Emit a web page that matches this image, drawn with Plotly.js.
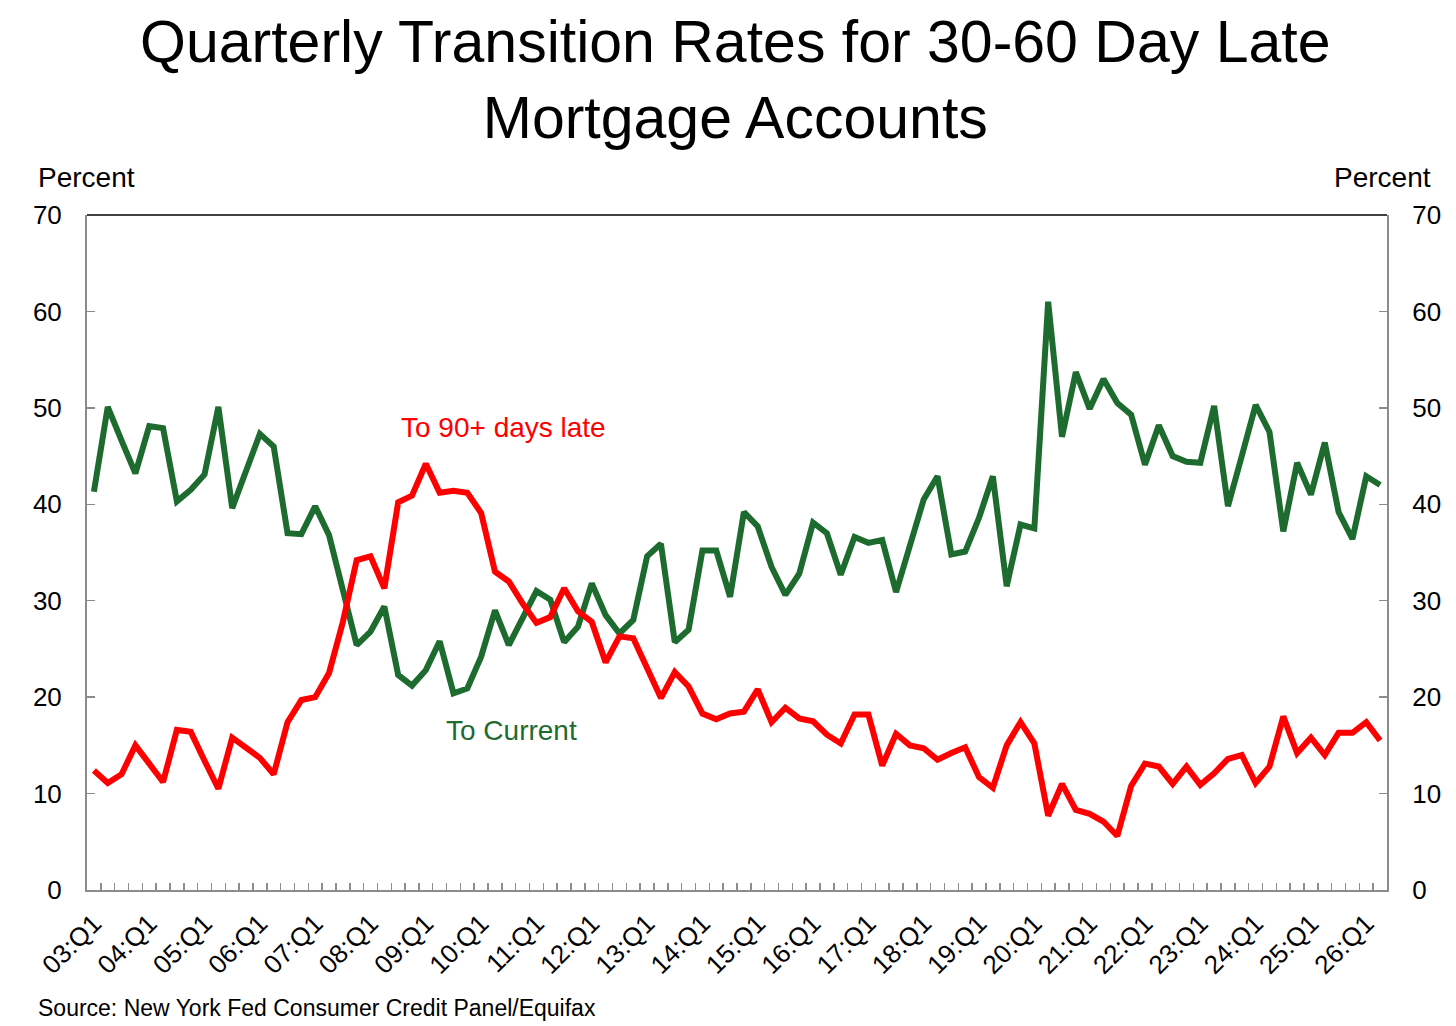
<!DOCTYPE html>
<html>
<head>
<meta charset="utf-8">
<script src="https://cdn.plot.ly/plotly-3.0.1.min.js"></script>
<style>
  html, body { margin: 0; padding: 0; background: #fff; }
  #chart { width: 1456px; height: 1026px; }
</style>
</head>
<body>
<div id="chart"></div>
<script>
// quarters 03:Q1 .. 26:Q2
const years = ["03","04","05","06","07","08","09","10","11","12","13","14",
  "15","16","17","18","19","20","21","22","23","24","25","26"];
const quarterNames = ["Q1","Q2","Q3","Q4"];
const quarters = [];
years.forEach(y => quarterNames.forEach(q => quarters.push(y + ":" + q)));
quarters.length = 94;

// percent of 30-60 day late accounts moving to current
const toCurrent = [
  41.3, 50.1, 46.6, 43.2, 48.1, 47.9, 40.3, 41.5, 43.1, 50.1,
  39.6, 43.5, 47.3, 46.0, 37.0, 36.9, 39.8, 36.8, 31.3, 25.4,
  26.8, 29.4, 22.3, 21.2, 22.8, 25.8, 20.4, 20.9, 24.2, 29.0,
  25.4, 28.3, 31.0, 30.1, 25.7, 27.3, 31.8, 28.5, 26.6, 28.0,
  34.6, 35.9, 25.7, 27.0, 35.2, 35.2, 30.4, 39.2, 37.7, 33.5,
  30.6, 32.8, 38.1, 37.0, 32.7, 36.6, 36.0, 36.3, 30.9, 35.7,
  40.5, 42.9, 34.8, 35.1, 38.6, 42.9, 31.5, 37.9, 37.5, 61.0,
  47.0, 53.7, 49.9, 53.0, 50.5, 49.3, 44.1, 48.2, 45.0, 44.4,
  44.3, 50.2, 39.8, 45.0, 50.3, 47.5, 37.2, 44.3, 41.0, 46.4,
  39.2, 36.4, 42.9, 42.0
];

// percent moving to 90+ days late
const to90Late = [
  12.4, 11.1, 12.0, 15.0, 13.1, 11.2, 16.6, 16.4, 13.4, 10.5,
  15.8, 14.7, 13.7, 12.0, 17.4, 19.7, 20.0, 22.5, 27.8, 34.2,
  34.6, 31.3, 40.2, 40.9, 44.2, 41.2, 41.4, 41.2, 39.1, 33.0,
  32.0, 29.7, 27.7, 28.3, 31.3, 28.9, 27.8, 23.6, 26.3, 26.1,
  23.0, 19.9, 22.6, 21.1, 18.3, 17.7, 18.3, 18.5, 20.8, 17.4,
  18.9, 17.8, 17.5, 16.1, 15.2, 18.2, 18.2, 12.9, 16.2, 15.0,
  14.7, 13.5, 14.2, 14.8, 11.7, 10.6, 15.0, 17.4, 15.2, 7.7,
  11.0, 8.3, 7.9, 7.1, 5.6, 10.8, 13.1, 12.8, 11.0, 12.8,
  10.9, 12.1, 13.6, 14.0, 11.1, 12.8, 18.0, 14.2, 15.8, 14.0,
  16.3, 16.3, 17.4, 15.5
];

// only Q1 gets a label
const tickText = quarters.map(q => q.endsWith("Q1") ? q : "");

const GREEN = "#1e6b30";
const RED = "#ff0000";
const AXIS = "#8c8c8c";
const FONT = "Liberation Sans, Arial, sans-serif";

const traces = [
  {
    x: quarters, y: toCurrent, type: "scatter", mode: "lines",
    line: { color: GREEN, width: 6 }, name: "To Current"
  },
  {
    x: quarters, y: to90Late, type: "scatter", mode: "lines",
    line: { color: RED, width: 6 }, name: "To 90+ days late"
  },
  // dummy trace so the right axis gets drawn
  { x: [quarters[0]], y: [null], yaxis: "y2", showlegend: false, hoverinfo: "skip" }
];

const yCommon = {
  range: [0, 70], dtick: 10, tick0: 0,
  showgrid: false, zeroline: false,
  showline: true, linecolor: AXIS, linewidth: 2,
  ticks: "inside", ticklen: 8, tickcolor: AXIS, tickwidth: 1.5,
  tickfont: { family: FONT, size: 26, color: "#000" },
  ticklabelstandoff: 18,
  fixedrange: true
};

const layout = {
  width: 1456, height: 1026,
  margin: { l: 87, r: 69, t: 215, b: 136 },
  paper_bgcolor: "#fff", plot_bgcolor: "#fff",
  showlegend: false,
  font: { family: FONT, color: "#000" },
  title: {
    text: "Quarterly Transition Rates for 30-60 Day Late<br>Mortgage Accounts",
    font: { family: FONT, size: 59, color: "#000" },
    x: 0.505, xanchor: "center",
    y: 0.94, yanchor: "middle"
  },
  xaxis: {
    type: "category",
    range: [-0.5, quarters.length - 0.5],
    tickmode: "array", tickvals: quarters, ticktext: tickText,
    tickson: "boundaries",
    ticks: "inside", ticklen: 7, tickcolor: AXIS, tickwidth: 1.5,
    tickangle: -45,
    tickfont: { family: FONT, size: 26, color: "#000" },
    ticklabelstandoff: 6,
    showgrid: false, zeroline: false,
    showline: true, linecolor: AXIS, linewidth: 2,
    automargin: false, fixedrange: true
  },
  yaxis: Object.assign({}, yCommon, { side: "left", automargin: false }),
  yaxis2: Object.assign({}, yCommon, { side: "right", overlaying: "y", automargin: false }),
  shapes: [
    {
      type: "line", xref: "paper", yref: "paper",
      x0: 0, x1: 1, y0: 1, y1: 1,
      line: { color: "#000", width: 1.5 }
    }
  ],
  annotations: [
    {
      text: "Percent", xref: "paper", yref: "paper",
      x: -0.039, y: 1.055, xanchor: "left", yanchor: "middle",
      showarrow: false, font: { family: FONT, size: 28, color: "#000" }
    },
    {
      text: "Percent", xref: "paper", yref: "paper",
      x: 1.035, y: 1.055, xanchor: "right", yanchor: "middle",
      showarrow: false, font: { family: FONT, size: 28, color: "#000" }
    },
    {
      text: "To 90+ days late", xref: "x", yref: "y",
      x: 29.6, y: 48.0, xanchor: "center", yanchor: "middle",
      showarrow: false, font: { family: FONT, size: 28, color: RED }
    },
    {
      text: "To Current", xref: "x", yref: "y",
      x: 30.2, y: 16.5, xanchor: "center", yanchor: "middle",
      showarrow: false, font: { family: FONT, size: 28, color: GREEN }
    },
    {
      text: "Source: New York Fed Consumer Credit Panel/Equifax",
      xref: "paper", yref: "paper",
      x: -0.039, y: -0.175, xanchor: "left", yanchor: "middle",
      showarrow: false, font: { family: FONT, size: 23, color: "#000" }
    }
  ]
};

Plotly.newPlot("chart", traces, layout, { displayModeBar: false, staticPlot: true });
</script>
</body>
</html>
